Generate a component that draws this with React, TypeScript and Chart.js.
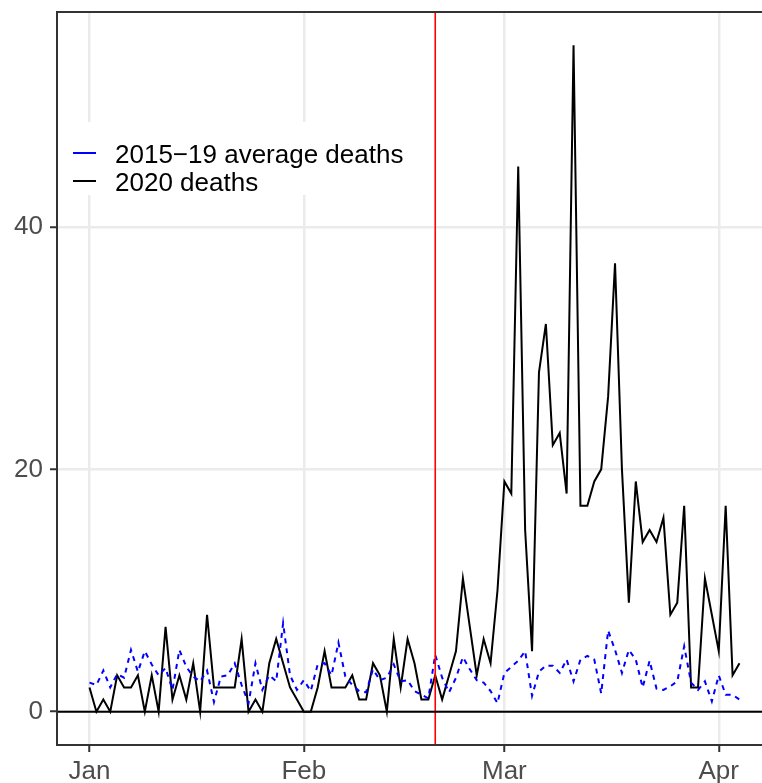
import { useEffect, useRef } from 'react';
import { Chart, registerables } from 'chart.js';

Chart.register(...registerables);

// Day offsets from 1 January 2020 for the month ticks
const monthTickDays = [0, 31, 60, 91];
const monthTickLabels = ['Jan', 'Feb', 'Mar', 'Apr'];
const yTickValues = [0, 20, 40];
const cutoffDay = 50; // 20 February 2020

const seriesLabels = ['2015\u221219 average deaths', '2020 deaths'];

// Daily deaths 2020, 1 Jan .. 4 Apr
const deaths2020 = [
  2, 0, 1, 0, 3, 2, 2, 3, 0, 3, 0, 7, 1, 3, 1, 4, 0,
  8, 2, 2, 2, 2, 6, 0, 1, 0, 4, 6, 4, 2, 1, 0, 0, 2,
  5, 2, 2, 2, 3, 1, 1, 4, 3, 0, 6, 2, 6, 4, 1, 1, 3,
  1, 3, 5, 11, 7, 3, 6, 4, 10, 19, 18, 45, 15, 5, 28, 32, 22,
  23, 18, 55, 17, 17, 19, 20, 26, 37, 20, 9, 19, 14, 15, 14, 16, 8,
  9, 17, 2, 2, 11, 8, 5, 17, 3, 4,
];

// 2015-19 average daily deaths, 1 Jan .. 4 Apr
const avgDeaths = [
  2.4, 2.2, 3.4, 2.0, 3.1, 2.8, 5.1, 3.3, 5.0, 3.9, 3.0, 3.6, 1.8, 5.1, 3.7, 2.9, 2.5, 3.4,
  0.8, 2.9, 3.0, 4.0, 2.2, 0.7, 4.0, 1.8, 3.0, 2.5, 7.3, 3.0, 1.8, 2.6, 1.7, 3.9, 4.0,
  3.0, 5.7, 2.9, 2.2, 1.7, 1.6, 3.5, 2.6, 2.8, 3.9, 2.5, 2.6, 1.7, 1.4, 1.1, 4.7, 2.8, 1.6,
  2.8, 4.5, 3.5, 2.6, 2.4, 1.7, 0.7, 3.2, 3.7, 4.2, 5.0, 1.3, 3.3, 3.8, 3.8, 3.2, 4.3,
  2.5, 4.3, 4.6, 4.3, 1.5, 6.7, 5.1, 3.2, 5.1, 4.3, 2.0, 4.2, 1.9, 1.8, 2.1, 2.5, 5.4,
  2.4, 1.8, 2.5, 0.85, 3.0, 1.4, 1.4, 1.0,
];

const FONT = '"Liberation Sans", Arial, Helvetica, sans-serif';
const FONT_SIZE = 26;

const panelPlugin = {
  id: 'panelDecor',
  afterDatasetsDraw(chart: any) {
    const { ctx, chartArea, scales } = chart;
    const x = scales.x;
    const y = scales.y;
    ctx.save();
    // red vertical line
    const xv = x.getPixelForValue(cutoffDay);
    ctx.strokeStyle = '#FF0000';
    ctx.lineWidth = 1.6;
    ctx.beginPath();
    ctx.moveTo(xv, chartArea.top);
    ctx.lineTo(xv, chartArea.bottom);
    ctx.stroke();
    // zero line
    const y0 = y.getPixelForValue(0);
    ctx.strokeStyle = '#000000';
    ctx.lineWidth = 2;
    ctx.beginPath();
    ctx.moveTo(chartArea.left, y0);
    ctx.lineTo(chartArea.right, y0);
    ctx.stroke();
    // panel border
    ctx.strokeStyle = '#333333';
    ctx.lineWidth = 2;
    ctx.strokeRect(chartArea.left, chartArea.top, chartArea.right - chartArea.left, chartArea.bottom - chartArea.top);
    ctx.restore();
  },
  afterDraw(chart: any) {
    const { ctx, chartArea } = chart;
    const left = chartArea.left;
    const top = chartArea.top;
    ctx.save();
    ctx.fillStyle = '#FFFFFF';
    ctx.fillRect(left + 3, top + 110, 365, 73);
    const colors = ['#0000FF', '#000000'];
    seriesLabels.forEach((label, i) => {
      const cy = top + 141 + i * 28;
      ctx.strokeStyle = colors[i];
      ctx.lineWidth = 2;
      ctx.beginPath();
      ctx.moveTo(left + 16, cy);
      ctx.lineTo(left + 39, cy);
      ctx.stroke();
      ctx.fillStyle = '#000000';
      ctx.font = `${FONT_SIZE}px ${FONT}`;
      ctx.textBaseline = 'alphabetic';
      ctx.textAlign = 'left';
      ctx.fillText(label, left + 58, cy + 9.5);
    });
    ctx.restore();
  },
};

export default function App() {
  const ref = useRef<HTMLCanvasElement | null>(null);

  useEffect(() => {
    if (!ref.current) return;
    const chart = new Chart(ref.current, {
      type: 'line',
      data: {
        datasets: [
          {
            label: seriesLabels[0],
            data: avgDeaths.map((v, i) => ({ x: i, y: v })),
            borderColor: '#0000FF',
            borderWidth: 2,
            borderDash: [5, 5],
            pointRadius: 0,
            tension: 0,
            fill: false,
          },
          {
            label: seriesLabels[1],
            data: deaths2020.map((v, i) => ({ x: i, y: v })),
            borderColor: '#000000',
            borderWidth: 2,
            pointRadius: 0,
            tension: 0,
            fill: false,
          },
        ],
      },
      options: {
        animation: false,
        responsive: true,
        maintainAspectRatio: false,
        layout: { padding: { left: 0, top: 12, right: 18, bottom: 0 } },
        plugins: {
          legend: { display: false },
          tooltip: { enabled: false },
        },
        scales: {
          x: {
            type: 'linear',
            min: -4.7,
            max: 98.7,
            afterBuildTicks: (scale: any) => {
              scale.ticks = monthTickDays.map((v) => ({ value: v }));
            },
            afterFit: (scale: any) => {
              scale.height = 38;
              scale.paddingLeft = 0;
              scale.paddingRight = 0;
            },
            ticks: {
              autoSkip: false,
              maxRotation: 0,
              padding: 4,
              color: '#4D4D4D',
              font: { family: FONT, size: FONT_SIZE },
              callback: (value: any) => {
                const idx = monthTickDays.indexOf(Number(value));
                return idx >= 0 ? monthTickLabels[idx] : '';
              },
            },
            grid: {
              color: '#EBEBEB',
              lineWidth: 2.5,
              tickColor: '#333333',
              tickWidth: 2,
              tickLength: 7,
            },
            border: { display: false },
          },
          y: {
            type: 'linear',
            min: -2.75,
            max: 57.75,
            afterBuildTicks: (scale: any) => {
              scale.ticks = yTickValues.map((v) => ({ value: v }));
            },
            afterFit: (scale: any) => {
              scale.width = 57;
              scale.paddingTop = 0;
              scale.paddingBottom = 0;
            },
            ticks: {
              padding: 7,
              color: '#4D4D4D',
              font: { family: FONT, size: FONT_SIZE },
              callback: (value: any) => String(value),
            },
            grid: {
              color: '#EBEBEB',
              lineWidth: 2.5,
              tickColor: '#333333',
              tickWidth: 2,
              tickLength: 7,
            },
            border: { display: false },
          },
        },
      },
      plugins: [panelPlugin],
    });
    return () => chart.destroy();
  }, []);

  return (
    <div style={{ position: 'fixed', left: 0, top: 0, width: 762, height: 783, overflow: 'hidden', background: '#fff' }}>
      <div style={{ position: 'relative', width: 790, height: 783 }}>
        <canvas ref={ref} />
      </div>
    </div>
  );
}
